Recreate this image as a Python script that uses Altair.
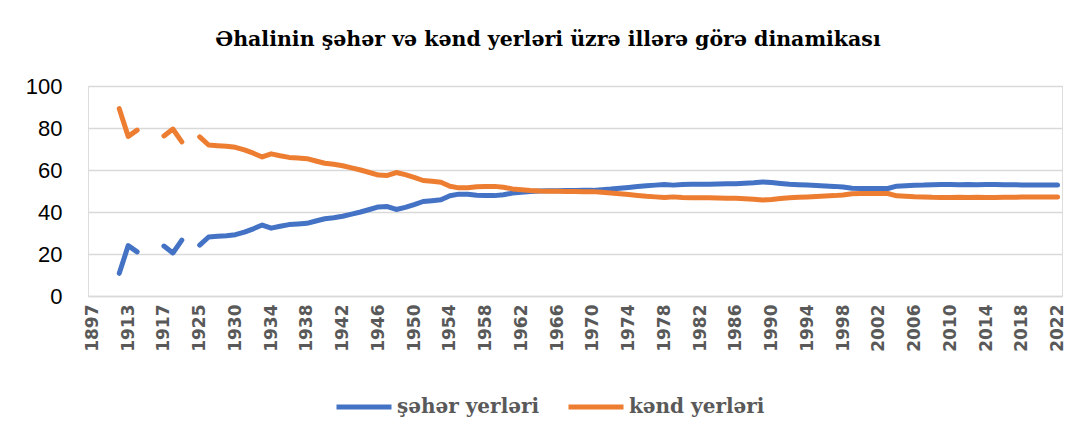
import altair as alt
import pandas as pd

categories = (
    ["1897", "1903", "1908", "1912", "1913", "1914", "1915", "1916",
     "1917", "1918", "1920", "1921", "1925", "1926", "1927", "1929"]
    + [str(y) for y in range(1930, 2023)]
)

urban = [
    None, None, None, 10.8, 24.0, 21.0, None, None,
    23.8, 20.5, 26.6, None, 24.2, 28.1, 28.4, 28.7,
    29.2, 30.4, 32.0, 33.8, 32.3, 33.2, 34.0, 34.3, 34.6, 35.7,
    36.8, 37.3, 38.0, 39.0, 40.0, 41.2, 42.4, 42.6, 41.2, 42.2,
    43.5, 45.0, 45.4, 45.8, 47.7, 48.5, 48.4, 48.0, 47.8, 47.8,
    48.2, 49.0, 49.4, 49.8, 50.0, 50.1, 50.1, 50.2, 50.2, 50.3,
    50.3, 50.6, 50.9, 51.3, 51.7, 52.1, 52.5, 52.8, 53.1, 52.8,
    53.1, 53.2, 53.2, 53.2, 53.3, 53.4, 53.5, 53.7, 53.9, 54.3,
    54.0, 53.6, 53.2, 53.0, 52.8, 52.6, 52.4, 52.2, 51.9, 51.3,
    51.2, 51.2, 51.2, 51.2, 52.3, 52.5, 52.7, 52.8, 53.0, 53.1,
    53.1, 53.0, 53.1, 53.0, 53.1, 53.1, 53.0, 53.0, 52.9, 52.9,
    52.8, 52.8, 52.8,
]

rural = [
    None, None, None, 89.2, 76.0, 79.0, None, None,
    76.2, 79.5, 73.4, None, 75.8, 71.9, 71.6, 71.3,
    70.8, 69.6, 68.0, 66.2, 67.7, 66.8, 66.0, 65.7, 65.4, 64.3,
    63.2, 62.7, 62.0, 61.0, 60.0, 58.8, 57.6, 57.4, 58.8, 57.8,
    56.5, 55.0, 54.6, 54.2, 52.3, 51.5, 51.6, 52.0, 52.2, 52.2,
    51.8, 51.0, 50.6, 50.2, 50.0, 49.9, 49.9, 49.8, 49.8, 49.7,
    49.7, 49.4, 49.1, 48.7, 48.3, 47.9, 47.5, 47.2, 46.9, 47.2,
    46.9, 46.8, 46.8, 46.8, 46.7, 46.6, 46.5, 46.3, 46.1, 45.7,
    46.0, 46.4, 46.8, 47.0, 47.2, 47.4, 47.6, 47.8, 48.1, 48.7,
    48.8, 48.8, 48.8, 48.8, 47.7, 47.5, 47.3, 47.2, 47.0, 46.9,
    46.9, 47.0, 46.9, 47.0, 46.9, 46.9, 47.0, 47.0, 47.1, 47.1,
    47.2, 47.2, 47.2,
]

series_names = ["şəhər yerləri", "kənd yerləri"]
series_colors = ["#4472C4", "#ED7D31"]
y_ticks = [0, 20, 40, 60, 80, 100]
shown_labels = categories[::4]

SERIF = "DejaVu Serif"

rows = []
for name, vals in zip(series_names, [urban, rural]):
    for i, (c, v) in enumerate(zip(categories, vals)):
        rows.append({"il": c, "idx": i, "seriya": name, "faiz": v})
df = pd.DataFrame(rows)

chart = (
    alt.Chart(df)
    .mark_line(strokeWidth=5, strokeCap="round", strokeJoin="round",
               invalid="break-paths-show-domains")
    .encode(
        x=alt.X(
            "il:O",
            sort=categories,
            scale=alt.Scale(type="point", domain=categories, padding=0.5),
            axis=alt.Axis(
                values=shown_labels,
                labelAngle=-90,
                labelFont="DejaVu Sans",
                labelFontWeight="bold",
                labelFontSize=17,
                labelColor="#595959",
                labelPadding=8,
                ticks=False,
                domain=True,
                domainColor="#D9D9D9",
                domainWidth=1.5,
                grid=False,
                title=None,
                labelOverlap=False,
            ),
        ),
        y=alt.Y(
            "faiz:Q",
            scale=alt.Scale(domain=[0, 100], nice=False),
            axis=alt.Axis(
                values=y_ticks,
                labelFont="Liberation Sans",
                labelFontSize=22,
                labelColor="#000000",
                labelPadding=26,
                ticks=False,
                domain=False,
                grid=True,
                gridColor="#D9D9D9",
                gridWidth=1.5,
                title=None,
            ),
        ),
        color=alt.Color(
            "seriya:N",
            scale=alt.Scale(domain=series_names, range=series_colors),
            legend=alt.Legend(
                title=None,
                orient="none",
                direction="horizontal",
                legendX=246,
                legendY=291,
                symbolType="stroke",
                symbolSize=3025,
                symbolStrokeWidth=5,
                labelFont=SERIF,
                labelFontWeight="bold",
                labelFontSize=20,
                labelColor="#595959",
                labelOffset=3,
                columnPadding=18,
            ),
        ),
        order=alt.Order("idx:Q"),
    )
    .properties(
        width=974,
        height=210,
        autosize=alt.AutoSizeParams(type="none"),
        padding={"left": 80, "top": 78, "right": 13, "bottom": 140},
        title=alt.TitleParams(
            text="Əhalinin şəhər və kənd yerləri üzrə illərə görə dinamikası",
            font=SERIF,
            fontSize=20.5,
            fontWeight="bold",
            color="#000000",
            anchor="middle",
            offset=25,
            dx=-27,
        ),
    )
    .configure_view(stroke=None)
    .configure(background="white")
)

chart.save("out.html", embed_options={"renderer": "svg", "actions": False})
